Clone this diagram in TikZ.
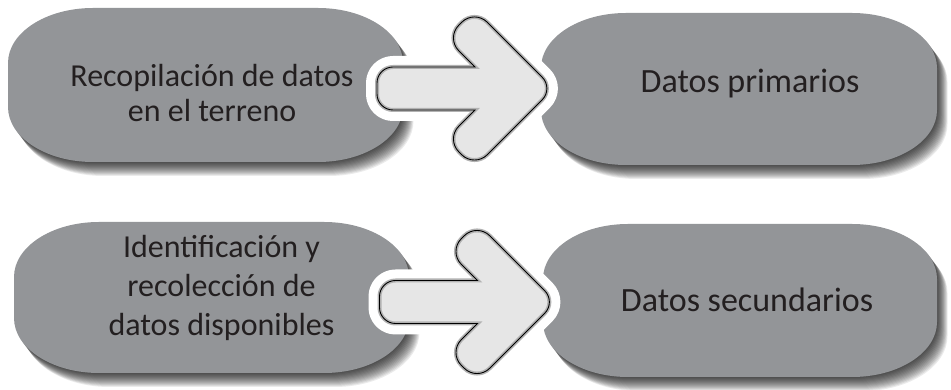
\documentclass[tikz,border=0pt]{standalone}
\usepackage{fontspec}
\setmainfont{Carlito}

\definecolor{pillgray}{RGB}{147,149,152}
\definecolor{arrowfill}{RGB}{230,230,230}
\definecolor{textdark}{RGB}{35,31,32}

% box with elliptic corners: x1 y1 x2 y2 grow
\newcommand{\pillpath}[5]{(#1+85,#4+#5) -- (#3-85,#4+#5)
  arc[start angle=90,end angle=0,x radius=85+#5,y radius=55+#5] -- (#3+#5,#2+55)
  arc[start angle=0,end angle=-90,x radius=85+#5,y radius=55+#5] -- (#1+85,#2-#5)
  arc[start angle=270,end angle=180,x radius=85+#5,y radius=55+#5] -- (#1-#5,#4-55)
  arc[start angle=180,end angle=90,x radius=85+#5,y radius=55+#5] -- cycle}

\newcommand{\pillbox}[4]{%
  \foreach \s in {1,...,14}
    {\fill [black,opacity=.08,shift={(0.75*\s,-\s)}] \pillpath{#1}{#2}{#3}{#4}{0};}
  \fill [pillgray] \pillpath{#1}{#2}{#3}{#4}{0};}

% arrow outline, tail centre left at (0,0)
\newcommand{\arrowpath}{(0,5.5) .. controls (0,14.3) and (7.2,21.5) .. (16,21.5) -- (98,21.5)
  -- (81.73,37.77) .. controls (74.70,44.80) and (74.70,56.20) .. (81.73,63.23)
  -- (84.77,66.27) .. controls (91.80,73.30) and (103.20,73.30) .. (110.23,66.27)
  -- (165.19,11.31) .. controls (171.43,5.07) and (171.43,-5.07) .. (165.19,-11.31)
  -- (110.23,-66.27) .. controls (103.20,-73.30) and (91.80,-73.30) .. (84.77,-66.27)
  -- (81.73,-63.23) .. controls (74.70,-56.20) and (74.70,-44.80) .. (81.73,-37.77)
  -- (98,-21.5) -- (16,-21.5) .. controls (7.2,-21.5) and (0,-14.3) .. (0,-5.5) -- cycle}

\tikzset{
  lefttext/.style={text=textdark,align=center,font=\fontsize{32}{35}\selectfont},
  righttext/.style={text=textdark,anchor=base,font=\fontsize{34}{40}\selectfont},
  blockarrow/.pic={
    \draw [white,line width=22,line join=round] \arrowpath;
    \draw [gray!60,line width=4,fill=arrowfill] \arrowpath;
    \draw [black,line width=.9] \arrowpath;
  }
}

\begin{document}
\begin{tikzpicture}[x=1pt,y=1pt]
    \useasboundingbox (0,0) rectangle (951,390);

    \pillbox{8}{228}{403}{382}
    \pillbox{541}{225}{937}{377}
    \pillbox{14}{17}{409}{168}
    \pillbox{543}{13}{937}{166}

    \node [lefttext] (recop) at (212,297) {Recopilación de datos\\en el terreno};
    \node [righttext] (prim) at (750,297) {Datos primarios};
    \node [lefttext,font=\fontsize{32}{39}\selectfont] (ident) at (221.5,102) {Identificación y\\recolección de\\datos disponibles};
    \node [righttext] (secu) at (747,78) {Datos secundarios};

    %\draw (recop) -- (prim);
    \pic at (377,301.5) {blockarrow};
    \pic at (379.5,88) {blockarrow};
\end{tikzpicture}
\end{document}
